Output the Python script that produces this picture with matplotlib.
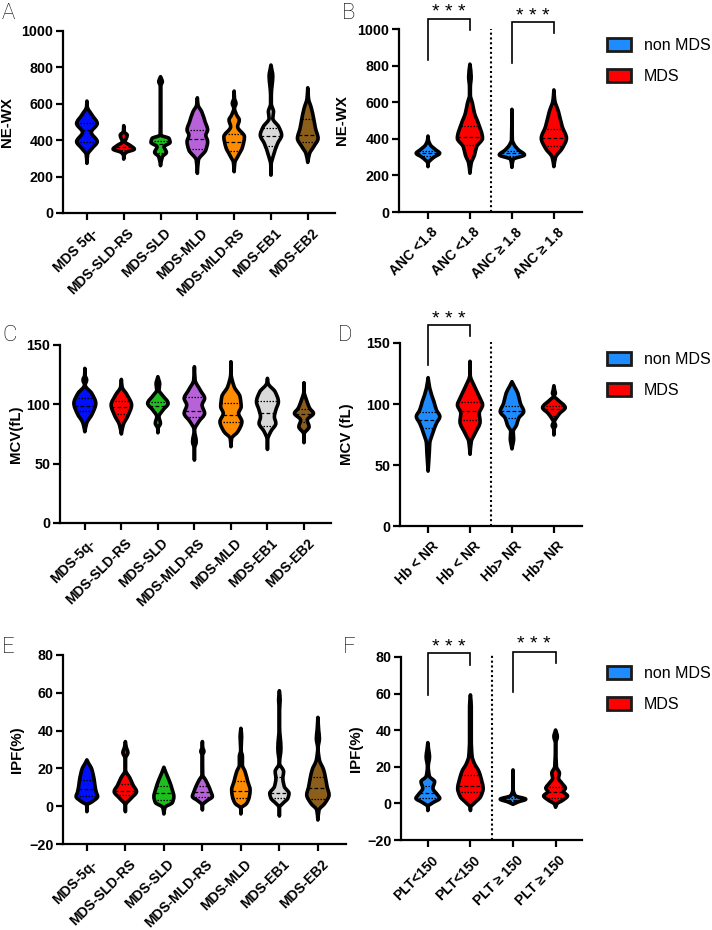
import numpy as np
import matplotlib
matplotlib.use('Agg')
import matplotlib.pyplot as plt
import matplotlib.transforms as mtransforms
from matplotlib.path import Path
from matplotlib.patches import PathPatch, Patch

plt.rcParams['font.family'] = ['Liberation Sans', 'DejaVu Sans']

W, H = 712, 930

# ---------------- DATA (violin outlines) ----------------
# each violin: levels (value), half-widths (category units), quartiles (Q1, median, Q3)
SUB_COLORS = ['#0010FA', '#FF0000', '#1EBE1E', '#B862DA', '#FF8C00', '#D9D9D9', '#8C5E1C']
GRP_COLORS = ['#1E8CFF', '#FF0000', '#1E8CFF', '#FF0000']
LEGEND_LABELS = ['non MDS', 'MDS']

# Panel A  NE-WX by subtype
A_cats = ["MDS 5q-", "MDS-SLD-RS", "MDS-SLD", "MDS-MLD", "MDS-MLD-RS", "MDS-EB1", "MDS-EB2"]
A_levels = [
    [615, 584, 538, 492, 443, 392, 355, 322, 273],
    [480, 447, 428, 410, 392, 370, 351, 333, 315, 296],
    [749, 735, 721, 707, 694, 600, 428, 410, 388, 364, 333, 309, 260],
    [633, 593, 556, 502, 456, 428, 392, 346, 291, 218],
    [670, 630, 602, 575, 538, 511, 474, 419, 364, 309, 278, 227],
    [813, 750, 700, 650, 600, 556, 520, 474, 428, 382, 318, 263, 208],
    [688, 630, 575, 520, 465, 410, 364, 327, 278],
]
A_halfw = [
    [0, 0.01, 0.14, 0.28, 0.12, 0.28, 0.14, 0.02, 0],
    [0, 0.01, 0.095, 0.07, 0.03, 0.185, 0.29, 0.07, 0.005, 0],
    [0, 0.03, 0.05, 0.02, 0.005, 0.005, 0.01, 0.23, 0.26, 0.095, 0.16, 0.05, 0],
    [0, 0.02, 0.12, 0.21, 0.28, 0.23, 0.28, 0.23, 0.03, 0],
    [0, 0.01, 0.05, 0.01, 0.07, 0.14, 0.095, 0.28, 0.23, 0.095, 0.02, 0],
    [0, 0.05, 0.03, 0.01, 0.01, 0.07, 0.05, 0.21, 0.29, 0.18, 0.07, 0.005, 0],
    [0, 0.02, 0.10, 0.16, 0.21, 0.28, 0.16, 0.05, 0],
]
A_quart = [(388, 456, 494), (345, 365, 395), (332, 378, 395), (350, 406, 455),
           (343, 388, 435), (370, 421, 469), (390, 427, 515)]

# Panel B  NE-WX by ANC
B_cats = ["ANC <1.8", "ANC <1.8", "ANC \u2265 1.8", "ANC \u2265 1.8"]
B_levels = [
    [415, 394, 366, 339, 321, 299, 266, 248],
    [808, 740, 680, 640, 594, 539, 485, 403, 357, 312, 266, 212],
    [561, 394, 366, 339, 312, 288, 244],
    [667, 612, 548, 466, 403, 348, 299, 248],
]
B_halfw = [
    [0, 0.01, 0.06, 0.19, 0.28, 0.14, 0.005, 0],
    [0, 0.03, 0.01, 0.01, 0.06, 0.11, 0.20, 0.30, 0.16, 0.11, 0.03, 0],
    [0, 0.01, 0.06, 0.16, 0.30, 0.03, 0],
    [0, 0.02, 0.11, 0.20, 0.30, 0.20, 0.04, 0],
]
B_quart = [(305, 320, 335), (364, 412, 470), (308, 320, 335), (361, 403, 452)]

# Panel C  MCV by subtype
C_cats = ["MDS-5q-", "MDS-SLD-RS", "MDS-SLD", "MDS-MLD-RS", "MDS-MLD", "MDS-EB1", "MDS-EB2"]
C_levels = [
    [130.3, 124.7, 120.5, 116.2, 109.2, 100.8, 92.4, 84, 76.9],
    [121, 114.8, 107.8, 99.4, 91, 82.5, 75],
    [123.3, 117, 112, 107.8, 100.8, 95.2, 89.6, 84, 79.7, 76],
    [131.7, 120.5, 112, 105, 99.4, 92.4, 85.4, 78.3, 68.5, 62.9, 53],
    [135.9, 126, 114.8, 106.4, 98, 92.4, 85.4, 77, 71.3, 64.3],
    [121.9, 117.6, 110.6, 102.2, 95.2, 89.6, 84, 77, 70, 62],
    [118.2, 110.6, 103.6, 96.6, 92.4, 86.8, 81.1, 75, 67.7],
]
C_halfw = [
    [0, 0.005, 0.05, 0.01, 0.19, 0.30, 0.21, 0.05, 0],
    [0, 0.02, 0.16, 0.28, 0.19, 0.05, 0],
    [0, 0.05, 0.03, 0.12, 0.28, 0.14, 0.03, 0.07, 0.005, 0],
    [0, 0.02, 0.16, 0.28, 0.21, 0.28, 0.12, 0.005, 0.05, 0.005, 0],
    [0, 0.005, 0.09, 0.25, 0.28, 0.21, 0.30, 0.19, 0.02, 0],
    [0, 0.02, 0.21, 0.30, 0.23, 0.19, 0.23, 0.09, 0.005, 0],
    [0, 0.005, 0.07, 0.16, 0.26, 0.09, 0.14, 0.005, 0],
]
C_quart = [(94, 99, 105), (92, 97.5, 103), (93, 98.5, 102), (89, 94.5, 106.5),
           (85.5, 91, 101.5), (82, 93, 103), (85, 92, 96)]

# Panel D  MCV by Hb
D_cats = ["Hb < NR", "Hb < NR", "Hb> NR", "Hb> NR"]
D_levels = [
    [121.6, 112.9, 101.9, 95.1, 89.7, 84.2, 76, 67.8, 61, 45],
    [135, 123.8, 114.2, 104.7, 99.2, 92.4, 85.6, 76, 69.2, 58.8],
    [118.3, 114.2, 108.8, 100.6, 93.8, 88.3, 82.8, 77.4, 71.9, 63.2],
    [115, 111, 108.8, 106.5, 103.5, 97, 92.4, 87.5, 85.5, 82.3, 79.5, 74.6],
]
D_halfw = [
    [0, 0.04, 0.14, 0.20, 0.28, 0.20, 0.11, 0.04, 0.03, 0],
    [0, 0.005, 0.11, 0.24, 0.30, 0.22, 0.24, 0.12, 0.03, 0],
    [0, 0.06, 0.14, 0.20, 0.28, 0.16, 0.11, 0.03, 0.04, 0],
    [0, 0.02, 0.035, 0.005, 0.09, 0.27, 0.14, 0.04, 0.01, 0.04, 0.005, 0],
]
D_quart = [(80, 87, 93.5), (87, 94.5, 102), (88.5, 94.5, 98.5), (90, 95.5, 98.5)]

# Panel E  IPF by subtype
E_cats = ["MDS-5q-", "MDS-SLD-RS", "MDS-SLD", "MDS-MLD-RS", "MDS-MLD", "MDS-EB1", "MDS-EB2"]
E_levels = [
    [24.5, 22.5, 20, 17, 14, 11, 7.7, 5.1, 2.4, 0.6, -2.9],
    [34.2, 31.5, 28.3, 25.3, 19.2, 14.8, 11.2, 7.7, 4.2, 0.6, -2.9],
    [20.6, 17.4, 13, 8.6, 5.1, 1.9, -0.6, -4.1],
    [34.2, 31, 29, 27, 16.5, 14, 11.2, 7.7, 5.1, 2.9, 0.6, -2],
    [41.2, 36.8, 29.7, 26.2, 21.8, 18.3, 13, 8.6, 5.1, 1.5, -1.1, -4.1],
    [61.1, 56.2, 50.9, 42.1, 30.6, 22.7, 18.3, 14.8, 10.3, 6.8, 4.2, 1.5, -0.6, -5.2],
    [47, 40.3, 35.9, 30.6, 24.5, 19.2, 14.8, 10.3, 6, 1.5, -2, -7.3],
]
E_halfw = [
    [0, 0.05, 0.12, 0.16, 0.19, 0.21, 0.24, 0.28, 0.14, 0.005, 0],
    [0, 0.02, 0.065, 0.005, 0.005, 0.12, 0.20, 0.29, 0.15, 0.005, 0],
    [0, 0.06, 0.15, 0.22, 0.26, 0.22, 0.03, 0],
    [0, 0.01, 0.04, 0.005, 0.01, 0.08, 0.15, 0.22, 0.26, 0.12, 0.005, 0],
    [0, 0.02, 0.005, 0.04, 0.04, 0.11, 0.18, 0.24, 0.22, 0.15, 0.005, 0],
    [0, 0.02, 0.005, 0.005, 0.04, 0.005, 0.11, 0.09, 0.13, 0.25, 0.22, 0.09, 0.005, 0],
    [0, 0.02, 0.04, 0.005, 0.04, 0.15, 0.20, 0.24, 0.29, 0.18, 0.03, 0],
]
E_quart = [(5.5, 9, 14), (6, 8, 12), (3.3, 7.2, 10.8), (5, 7.5, 10.5),
           (4.5, 8.2, 13.5), (4.6, 7.2, 15.6), (3.8, 9.5, 15.3)]

# Panel F  IPF by PLT
F_cats = ["PLT<150", "PLT<150", "PLT \u2265 150", "PLT \u2265 150"]
F_levels = [
    [33.2, 29.2, 25.6, 20.1, 14.7, 11.9, 8.3, 4.6, 2.8, 0.4, -1.7, -3.9],
    [59.3, 52.9, 43.8, 34.7, 25.6, 22, 17.4, 11.9, 8.3, 3.7, 0.1, -2.1, -3.9],
    [18.3, 7.4, 4.1, 2.3, 0.8, -0.5],
    [40.1, 36.5, 32.9, 20.1, 16.5, 13.7, 11, 8.3, 6.5, 4.1, 1.9, -0.3, -2.1],
]
F_halfw = [
    [0, 0.02, 0.04, 0.01, 0.04, 0.16, 0.12, 0.23, 0.28, 0.12, 0.005, 0],
    [0, 0.02, 0.02, 0.02, 0.04, 0.09, 0.20, 0.27, 0.30, 0.24, 0.09, 0.005, 0],
    [0, 0.005, 0.06, 0.30, 0.12, 0],
    [0, 0.04, 0.005, 0.02, 0.09, 0.07, 0.15, 0.23, 0.18, 0.28, 0.18, 0.03, 0],
]
F_quart = [(2.8, 5.5, 9.7), (6, 9.7, 15.5), (1.4, 2, 2.8), (3.2, 6, 9)]

# significance brackets: (x_left, x_right, y_left_start, y_top, y_right_end, y_stars)
B_sig = [(0, 1, 830, 1053, 996, 1088), (2, 3, 816, 1040, 977, 1070)]
D_sig = [(0, 1, 132, 164.8, 155.7, 169.5)]
F_sig = [(0, 1, 59.2, 82, 75.6, 85), (2, 3, 61, 82.9, 76.9, 86.6)]


# ---------------- drawing helpers ----------------
def pchip_slopes(y, w):
    h = np.diff(y)
    d = np.diff(w) / h
    n = len(y)
    m = np.zeros(n)
    for k in range(1, n - 1):
        if d[k - 1] * d[k] <= 0:
            m[k] = 0.0
        else:
            w1 = 2 * h[k] + h[k - 1]
            w2 = h[k] + 2 * h[k - 1]
            m[k] = (w1 + w2) / (w1 / d[k - 1] + w2 / d[k])
    m[0] = d[0]
    m[-1] = d[-1]
    return m


def side_beziers(y, w, m):
    segs = []
    for i in range(len(y) - 1):
        dy = y[i + 1] - y[i]
        c1 = (max(w[i] + m[i] * dy / 3, 0), y[i] + dy / 3)
        c2 = (max(w[i + 1] - m[i + 1] * dy / 3, 0), y[i] + 2 * dy / 3)
        segs.append((c1, c2, (w[i + 1], y[i + 1])))
    return segs


def width_at(y, w, m, yq):
    i = int(np.clip(np.searchsorted(y, yq) - 1, 0, len(y) - 2))
    h = y[i + 1] - y[i]
    t = (yq - y[i]) / h
    h00 = 2 * t**3 - 3 * t**2 + 1
    h10 = t**3 - 2 * t**2 + t
    h01 = -2 * t**3 + 3 * t**2
    h11 = t**3 - t**2
    return h00 * w[i] + h10 * h * m[i] + h01 * w[i + 1] + h11 * h * m[i + 1]


def violin(ax, xc, levels, halfw, quart, color, lw=2.6):
    y = np.array(levels, float)[::-1]
    w = np.array(halfw, float)[::-1]
    m = pchip_slopes(y, w)
    segs = side_beziers(y, w, m)
    verts = [(xc + w[0], y[0])]
    codes = [Path.MOVETO]
    for c1, c2, p in segs:
        verts += [(xc + c1[0], c1[1]), (xc + c2[0], c2[1]), (xc + p[0], p[1])]
        codes += [Path.CURVE4] * 3
    for i in range(len(segs) - 1, -1, -1):
        c1, c2, p = segs[i]
        verts += [(xc - c2[0], c2[1]), (xc - c1[0], c1[1]), (xc - w[i], y[i])]
        codes += [Path.CURVE4] * 3
    verts.append(verts[0])
    codes.append(Path.CLOSEPOLY)
    path = Path(verts, codes)
    ax.add_patch(PathPatch(path, facecolor=color, edgecolor='none', zorder=2))
    styles = [(0, (1.2, 1.2)), (0, (3, 1.8)), (0, (1.2, 1.2))]
    for q, ls in zip(quart, styles):
        hw = max(width_at(y, w, m, q), 0)
        ax.plot([xc - hw, xc + hw], [q, q], color='black', lw=0.9, ls=ls,
                zorder=3, solid_capstyle='butt')
    ax.add_patch(PathPatch(path, facecolor='none', edgecolor='black', lw=lw,
                           joinstyle='round', capstyle='round', zorder=4))


fig = plt.figure(figsize=(W / 100, H / 100), dpi=100)


def add_ax(l, t, r, b):
    return fig.add_axes([l / W, 1 - b / H, (r - l) / W, (b - t) / H])


def style(ax, cats, xlim, ylim, yticks, ylabel, label_right_px, left_px, width_px):
    ax.set_xlim(*xlim)
    ax.set_ylim(*ylim)
    ax.set_yticks(yticks)
    ax.set_xticks(range(len(cats)))
    ax.set_xticklabels([])
    trans = mtransforms.blended_transform_factory(ax.transData, ax.transAxes) + \
        mtransforms.ScaledTranslation(8 / 100, -18 / 100, fig.dpi_scale_trans)
    for i, c in enumerate(cats):
        ax.text(i, 0, c, transform=trans, rotation=45, ha='right', va='center',
                rotation_mode='anchor', fontweight='bold', fontsize=10)
    for lab in ax.get_yticklabels():
        lab.set_fontweight('bold')
        lab.set_fontsize(10.3)
    for s in ['top', 'right']:
        ax.spines[s].set_visible(False)
    for s in ['left', 'bottom']:
        ax.spines[s].set_linewidth(1.6)
    ax.tick_params(width=1.6, length=5)
    ax.tick_params(axis='y', pad=2)
    ax.set_ylabel(ylabel, fontweight='bold', fontsize=10.8)
    ax.yaxis.set_label_coords((label_right_px - left_px) / width_px, 0.5)


def brackets(ax, sigs):
    for xl, xr, y0, yt, y1, ys in sigs:
        ax.plot([xl, xl, xr, xr], [y0, yt, yt, y1], color='black', lw=1.2,
                clip_on=False, zorder=5, solid_joinstyle='miter')
        ax.text((xl + xr) / 2, ys, '* * *', ha='center', va='center',
                fontsize=14, clip_on=False)


def legend(ax, x_px, y_px):
    handles = [Patch(facecolor=c, edgecolor='#1a1a1a', lw=2) for c in ['#1E8CFF', '#FF0000']]
    ax.legend(handles, LEGEND_LABELS, loc='upper left',
              bbox_to_anchor=(x_px / W, 1 - y_px / H), bbox_transform=fig.transFigure,
              frameon=False, fontsize=11.5, handlelength=1.5, handleheight=0.85,
              handletextpad=0.8, labelspacing=1.0, borderpad=0, borderaxespad=0)


# ---- A
axA = add_ax(63, 31, 335, 213)
for i in range(len(A_cats)):
    violin(axA, i, A_levels[i], A_halfw[i], A_quart[i], SUB_COLORS[i])
style(axA, A_cats, (-0.65, 6.74), (0, 1000), [0, 200, 400, 600, 800, 1000], 'NE-WX', 14, 63, 272)

# ---- B
axB = add_ax(399, 29, 582, 212)
for i in range(len(B_cats)):
    violin(axB, i, B_levels[i], B_halfw[i], B_quart[i], GRP_COLORS[i])
style(axB, B_cats, (-0.69, 3.67), (0, 1000), [0, 200, 400, 600, 800, 1000], 'NE-WX', 349, 399, 183)
axB.plot([1.5, 1.5], [0, 1000], color='black', lw=1.5, ls=(0, (1, 1.3)), zorder=1)
brackets(axB, B_sig)
legend(axB, 607, 38)

# ---- C
axC = add_ax(60, 345, 331, 523)
for i in range(len(C_cats)):
    violin(axC, i, C_levels[i], C_halfw[i], C_quart[i], SUB_COLORS[i])
style(axC, C_cats, (-0.68, 6.74), (0, 150), [0, 50, 100, 150], 'MCV(fL)', 23, 60, 271)

# ---- D
axD = add_ax(400, 343, 582, 526)
for i in range(len(D_cats)):
    violin(axD, i, D_levels[i], D_halfw[i], D_quart[i], GRP_COLORS[i])
style(axD, D_cats, (-0.67, 3.67), (0, 150), [0, 50, 100, 150], 'MCV (fL)', 354, 400, 182)
axD.plot([1.5, 1.5], [0, 151], color='black', lw=1.5, ls=(0, (1, 1.3)), zorder=1, clip_on=False)
brackets(axD, D_sig)
legend(axD, 607, 352)

# ---- E
axE = add_ax(63, 655, 346, 844)
for i in range(len(E_cats)):
    violin(axE, i, E_levels[i], E_halfw[i], E_quart[i], SUB_COLORS[i])
style(axE, E_cats, (-0.62, 6.73), (-20, 80), [-20, 0, 20, 40, 60, 80], 'IPF(%)', 24, 63, 283)

# ---- F
axF = add_ax(401, 657, 582, 840)
for i in range(len(F_cats)):
    violin(axF, i, F_levels[i], F_halfw[i], F_quart[i], GRP_COLORS[i])
style(axF, F_cats, (-0.63, 3.62), (-20, 80), [-20, 0, 20, 40, 60, 80], 'IPF(%)', 363, 401, 181)
axF.plot([1.5, 1.5], [-20, 81], color='black', lw=1.5, ls=(0, (1, 1.3)), zorder=1, clip_on=False)
brackets(axF, F_sig)
legend(axF, 607, 666)

# panel letters
for lab, x, y in [('A', 2, 3), ('B', 342, 3), ('C', 2, 325), ('D', 338, 325), ('E', 2, 637), ('F', 343, 637)]:
    fig.text(x / W, 1 - y / H, lab, ha='left', va='top', fontsize=16,
             family=['Roboto', 'Liberation Sans', 'DejaVu Sans'], fontweight='light')

fig.savefig('out.png', dpi=100)
